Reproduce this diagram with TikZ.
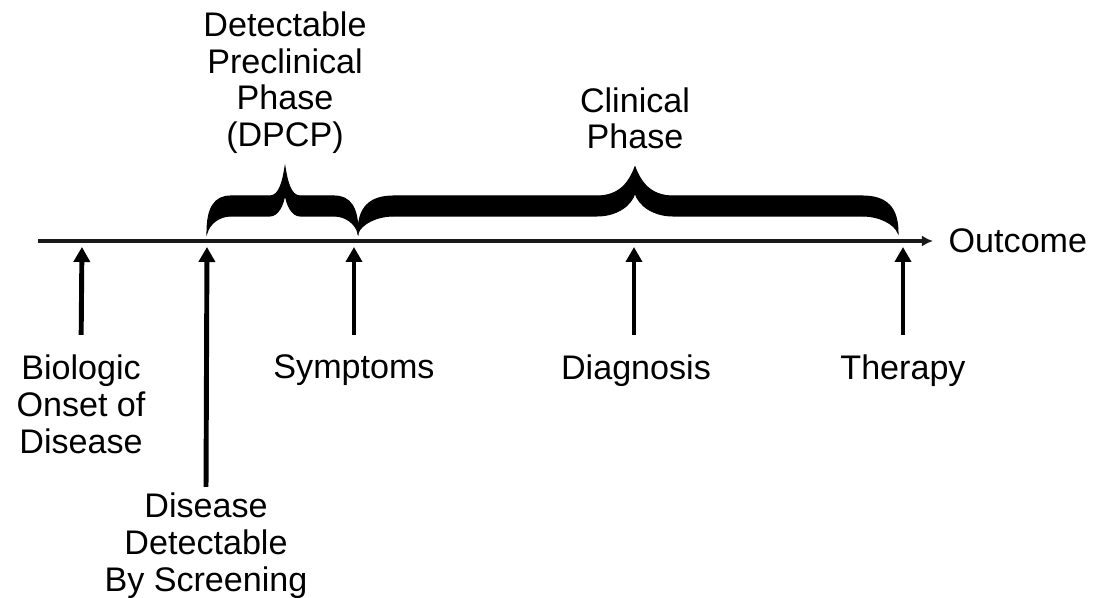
\documentclass[tikz,border=0pt]{standalone}
\usepackage{fontspec}
\setmainfont{Liberation Sans}
\usetikzlibrary{arrows.meta,positioning}
\tikzset{
  eventlabel/.style={align=center,inner sep=0pt,font=\fontsize{9.7}{10.6}\selectfont},
  phaselabel/.style={align=center,inner sep=0pt,font=\fontsize{9.7}{10.4}\selectfont},
  timeline/.style={-{Latex[length=1.1mm,width=1.1mm]},line width=0.9pt,draw=black!90},
  uparrow/.style={-{Triangle[length=1.5mm,width=1.6mm]},line width=1.4pt,shorten <=1.9mm,shorten >=0.6mm},
  phasebrace/.style={fill=black,draw=black,line width=0.3pt}
}
% left x, tip x, right x, end bend, tip half width
\newcommand{\phasebrace}[5]{%
  \filldraw[phasebrace] (#1,233)
    .. controls (#1,208) and ({#1+0.3*#4},196) .. ({#1+#4},196)
    -- ({#2-#5},196)
    .. controls ({#2-0.4*#5},196) and ({#2-0.15*#5},182) .. (#2,167)
    .. controls ({#2+0.15*#5},182) and ({#2+0.4*#5},196) .. ({#2+#5},196)
    -- ({#3-#4},196)
    .. controls ({#3-0.3*#4},196) and (#3,208) .. (#3,233)
    .. controls ({#3-0.1*#4},224) and ({#3-0.5*#4},216) .. ({#3-#4},216)
    -- ({#2+#5},216)
    .. controls ({#2+0.5*#5},216) and ({#2+0.1*#5},206) .. (#2,193)
    .. controls ({#2-0.1*#5},206) and ({#2-0.5*#5},216) .. ({#2-#5},216)
    -- ({#1+#4},216)
    .. controls ({#1+0.5*#4},216) and ({#1+0.1*#4},224) .. cycle;}

\begin{document}
\begin{tikzpicture}[x=0.01cm,y=-0.01cm]
  \useasboundingbox (0,0) rectangle (1105,598);

  % time axis
  \coordinate (start) at (38,241);
  \node[eventlabel,anchor=west] (outcome) at (948,241) {Outcome};
  \draw[timeline,shorten >=1.5mm] (start) -- (outcome.west);

  \coordinate (onsetpt) at (82,241);
  \coordinate (screenpt) at (207,241);
  \coordinate (symptpt) at (354,241);
  \coordinate (diagpt) at (634,241);
  \coordinate (therpt) at (903,241);

  % braces over the phases
  \phasebrace{207}{285}{358}{24}{15}
  \phasebrace{358}{635}{898}{36}{38}
  \coordinate (dpcptip) at (285,167);
  \coordinate (clintip) at (635,167);
  \node[phaselabel,above=0.13cm of dpcptip] (dpcp) {Detectable\\Preclinical\\Phase\\(DPCP)};
  \node[phaselabel,above=0.17cm of clintip] (clinical) {Clinical\\Phase};

  % events
  \node[eventlabel,anchor=north] (onset) at (81,354) {Biologic\\Onset of\\Disease};
  \node[eventlabel,anchor=north] (screen) at (206,492) {Disease\\Detectable\\By Screening};
  \node[eventlabel,anchor=north] (sympt) at (354,354) {Symptoms};
  \node[eventlabel,anchor=north] (diag) at (636,354) {Diagnosis};
  \node[eventlabel,anchor=north] (ther) at (903,354) {Therapy};

  \draw[uparrow] (onset.north) -- (onsetpt);
  \draw[uparrow,shorten <=0.5mm] (screen.north) -- (screenpt);
  \draw[uparrow] (sympt.north) -- (symptpt);
  \draw[uparrow] (diag.north -| diagpt) -- (diagpt);
  \draw[uparrow] (ther.north) -- (therpt);
\end{tikzpicture}
\end{document}
